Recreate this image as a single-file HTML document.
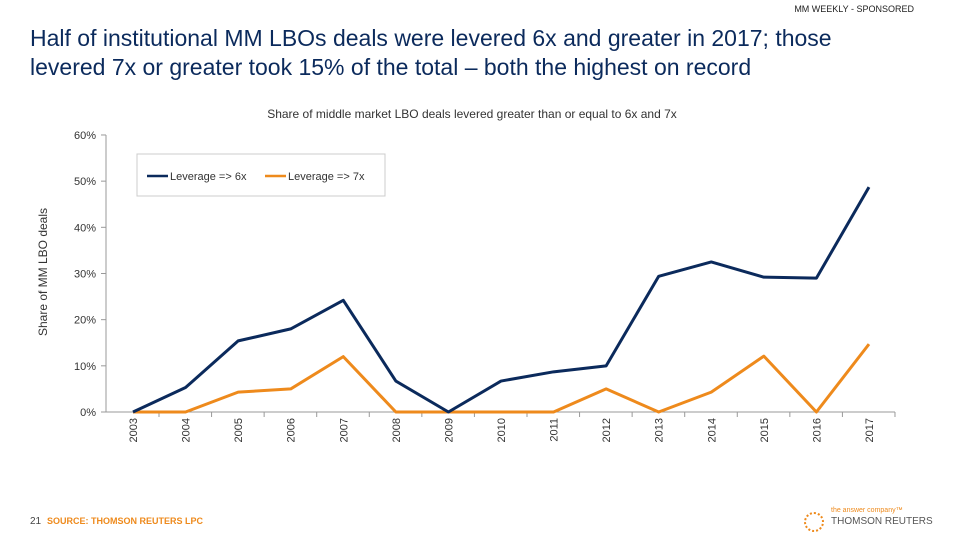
<!DOCTYPE html>
<html><head><meta charset="utf-8"><style>
body{margin:0;width:960px;height:540px;background:#fff;overflow:hidden;font-family:"Liberation Sans",sans-serif;position:relative}
.abs{position:absolute}
</style></head><body>
<div class="abs" style="right:46px;top:4px;font-size:9px;color:#222">MM WEEKLY - SPONSORED</div>
<div class="abs" style="left:30px;top:24px;font-size:23px;line-height:29px;color:#0b2a5c;width:900px;white-space:nowrap">Half of institutional MM LBOs deals were levered 6x and greater in 2017; those<br>levered 7x or greater took 15% of the total – both the highest on record</div>
<svg class="abs" style="left:0;top:0" width="960" height="540">
<text x="472" y="118" text-anchor="middle" font-size="12" fill="#333">Share of  middle market LBO deals levered greater than or equal to 6x and 7x</text>
<text transform="translate(47,272) rotate(-90)" text-anchor="middle" font-size="12" fill="#333">Share of MM LBO deals</text>
<g id="axes"></g><g id="lines"></g>
<rect x="137" y="154" width="248" height="42" fill="#fff" stroke="#ccc"/>
<line x1="147" y1="176" x2="168" y2="176" stroke="#0b2a5c" stroke-width="2.5"/>
<text x="170" y="180" font-size="11" fill="#333">Leverage =&gt; 6x</text>
<line x1="265" y1="176" x2="286" y2="176" stroke="#ee8a1c" stroke-width="2.5"/>
<text x="288" y="180" font-size="11" fill="#333">Leverage =&gt; 7x</text>
</svg>
<div class="abs" style="left:30px;top:516px;font-size:10px;color:#444">21</div>
<div class="abs" style="left:47px;top:516px;font-size:9px;font-weight:bold;color:#ee8a1c">SOURCE: THOMSON REUTERS LPC</div>
<div class="abs" style="left:804px;top:512px;width:20px;height:20px;border-radius:50%;border:2px dotted #ee8a1c;box-sizing:border-box"></div>
<div class="abs" style="left:831px;top:507px;font-size:7px;color:#ee8a1c">the answer company™</div>
<div class="abs" style="left:831px;top:516px;font-size:10px;color:#555">THOMSON REUTERS</div>
<script>
const years=[2003,2004,2005,2006,2007,2008,2009,2010,2011,2012,2013,2014,2015,2016,2017];
const lev6=[0,5.3,15.4,18,24.2,6.7,0,6.7,8.7,10,29.4,32.5,29.2,29,48.7];
const lev7=[0,0,4.3,5,12,0,0,0,0,5,0,4.3,12.1,0,14.7];
const yTicks=[0,10,20,30,40,50,60];
const NS="http://www.w3.org/2000/svg";
const X=i=>133+i*52.57, Y=v=>412-v*4.617;
const ax=document.getElementById('axes'), ln=document.getElementById('lines');
function mk(t,a,p){const e=document.createElementNS(NS,t);for(const k in a)e.setAttribute(k,a[k]);p.appendChild(e);return e;}
let yl=mk('line',{x1:106,y1:Y(60),x2:106,y2:412,stroke:'#999'},ax);


let xl=mk('line',{x1:106,y1:412,x2:X(years.length-1)+26,y2:412,stroke:'#999'},ax);


yTicks.forEach(t=>{mk('line',{x1:101,y1:Y(t),x2:106,y2:Y(t),stroke:'#999'},ax);
 const e=mk('text',{x:96,y:Y(t)+4,'text-anchor':'end','font-size':11,fill:'#333'},ax);e.textContent=t+'%';
 
 });
years.forEach((y,i)=>{const x=X(i)+26;mk('line',{x1:x,y1:412,x2:x,y2:417,stroke:'#999'},ax);
 const e=mk('text',{transform:`translate(${X(i)+4},418) rotate(-90)`,'text-anchor':'end','font-size':11,fill:'#333'},ax);e.textContent=y;
 
 });
function line(d,c,n){const p=mk('polyline',{points:d.map((v,i)=>X(i)+','+Y(v)).join(' '),fill:'none',stroke:c,'stroke-width':3,'stroke-linejoin':'round'},ln);
 
 }
line(lev7,'#ee8a1c','series-7x-line');
line(lev6,'#0b2a5c','series-6x-line');
</script>
</body></html>
